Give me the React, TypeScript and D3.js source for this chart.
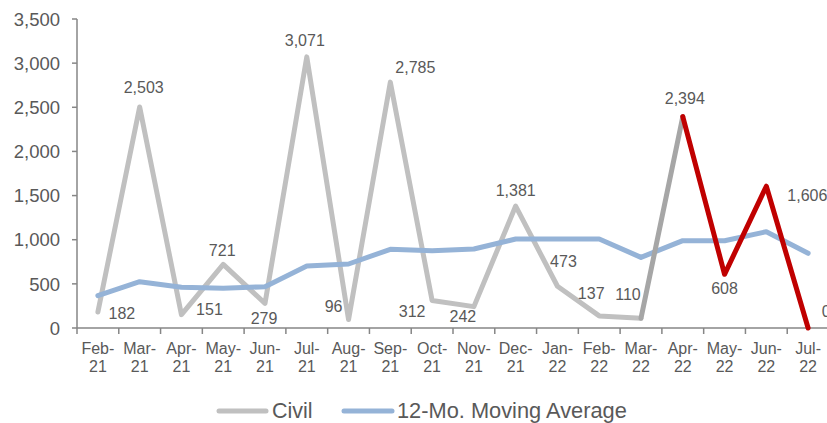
import React from "react";
import * as d3 from "d3";

const months = ["Feb-21","Mar-21","Apr-21","May-21","Jun-21","Jul-21","Aug-21","Sep-21","Oct-21","Nov-21","Dec-21","Jan-22","Feb-22","Mar-22","Apr-22","May-22","Jun-22","Jul-22"];
const civil = [182,2503,151,721,279,3071,96,2785,312,242,1381,473,137,110,2394,608,1606,0];
const movingAvg = [366,524,461,449,468,702,725,891,876,895,1008,1008,1008,800,989,989,1091,846];
const yTicks = [0,500,1000,1500,2000,2500,3000,3500];
// label placement offsets relative to point
const labelDx = [24,4,28,-1,-1,-2,-15,25,-20,-11,0,6,-8,-13,2,0,41,18];
const labelDy = [1,-20,-5,-14,15,-17,-13,-15,11,10,-16,-25,-23,-24,-18,14,9,-17];

const W = 827, H = 423;
const M = { left: 77, right: 829, top: 19, bottom: 328 };

export default function App() {
  const x = d3.scaleBand().domain(months).range([M.left, M.right]).padding(0);
  const y = d3.scaleLinear().domain([0, 3500]).range([M.bottom, M.top]);
  const cx = (m: string) => (x(m) as number) + x.bandwidth() / 2;
  const line = d3.line<number>().x((_, i) => cx(months[i])).y(d => y(d));
  const segLine = d3.line<[string, number]>().x(d => cx(d[0])).y(d => y(d[1]));
  const pairs: [string, number][] = months.map((m, i) => [m, civil[i]]);
  const fmt = d3.format(",");
  const font = "'Liberation Sans', Arial, sans-serif";
  const txt = "#595959";
  const axisColor = "#868686";
  return (
    <svg width={W} height={H} style={{ position: "absolute", left: 0, top: 0 }} fontFamily={font}>
      <rect width={W} height={H} fill="#fff" />
      {/* y axis */}
      <line x1={M.left} x2={M.left} y1={M.top} y2={M.bottom} stroke={axisColor} strokeWidth={1.5} />
      {yTicks.map(t => (
        <g key={t}>
          <line x1={M.left - 5} x2={M.left} y1={y(t)} y2={y(t)} stroke={axisColor} strokeWidth={1.5} />
          <text x={60} y={y(t)} dy="0.36em" textAnchor="end" fontSize={18.5} fill={txt}>{fmt(t)}</text>
        </g>
      ))}
      {/* x axis */}
      <line x1={M.left} x2={W} y1={M.bottom} y2={M.bottom} stroke={axisColor} strokeWidth={1.5} />
      {months.map((m, i) => (
        <line key={"t" + m} x1={x(m) as number} x2={x(m) as number} y1={M.bottom} y2={M.bottom + 6} stroke={axisColor} strokeWidth={1.5} />
      ))}
      {months.map(m => {
        const [mo, yr] = m.split("-");
        return (
          <text key={"l" + m} x={cx(m)} textAnchor="middle" fontSize={16} fill={txt}>
            <tspan x={cx(m)} y={354}>{mo + "-"}</tspan>
            <tspan x={cx(m)} y={372}>{yr}</tspan>
          </text>
        );
      })}
      {/* lines */}
      <path d={segLine(pairs.slice(0, 14)) || ""} fill="none" stroke="#c0c0c0" strokeWidth={5} strokeLinejoin="round" strokeLinecap="round" />
      <path d={line(movingAvg) || ""} fill="none" stroke="#95b3d7" strokeWidth={5} strokeLinejoin="round" strokeLinecap="round" />
      <path d={segLine(pairs.slice(13, 15)) || ""} fill="none" stroke="#a6a6a6" strokeWidth={5} strokeLinejoin="round" strokeLinecap="round" />
      <path d={segLine(pairs.slice(14)) || ""} fill="none" stroke="#c00000" strokeWidth={5} strokeLinejoin="round" strokeLinecap="round" />
      {/* data labels */}
      {months.map((m, i) => (
        <text key={"d" + m} x={cx(m) + labelDx[i]} y={y(civil[i]) + labelDy[i]} dy="0.36em" textAnchor="middle" fontSize={16} fill={txt}>{fmt(civil[i])}</text>
      ))}
      {/* legend */}
      <line x1={219} x2={266} y1={411} y2={411} stroke="#c0c0c0" strokeWidth={5} strokeLinecap="round" />
      <text x={272} y={418} fontSize={21.5} fill={txt}>Civil</text>
      <line x1={344} x2={392} y1={411} y2={411} stroke="#95b3d7" strokeWidth={5} strokeLinecap="round" />
      <text x={397} y={418} fontSize={21.8} fill={txt}>12-Mo. Moving Average</text>
    </svg>
  );
}
